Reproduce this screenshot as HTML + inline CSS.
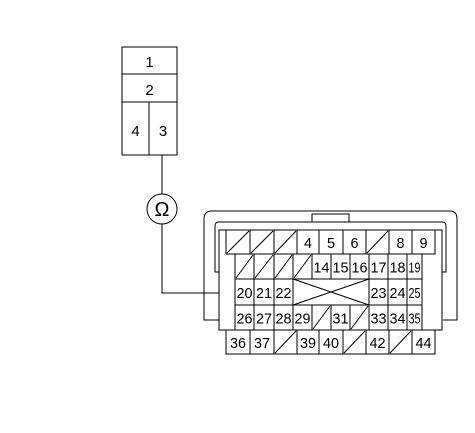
<!DOCTYPE html>
<html><head><meta charset="utf-8"><style>
html,body{margin:0;padding:0;background:#fff}
svg{display:block}
text{font-family:"Liberation Sans",sans-serif;font-size:15px;fill:#000}
</style></head><body>
<svg width="475" height="433" viewBox="0 0 475 433" fill="none" stroke="#000" stroke-width="1">
<g>
<rect x="122" y="47" width="55" height="108"/>
<line x1="122" y1="74" x2="177" y2="74"/>
<line x1="122" y1="102" x2="177" y2="102"/>
<line x1="149" y1="102" x2="149" y2="155"/>
<g stroke="none" text-anchor="middle" style="font-size:17px">
<text x="149.5" y="67">1</text><text x="149.5" y="95">2</text>
<text x="135.5" y="136">4</text><text x="163" y="136">3</text>
</g>
</g>
<g>
<line x1="162" y1="155" x2="162" y2="194"/>
<circle cx="162" cy="209" r="15"/>
<text x="162" y="216" text-anchor="middle" stroke="none" style="font-size:20px">Ω</text>
<polyline points="162,224 162,293 235,293"/>
</g>
<g>
<path d="M222,320 H204 V219 Q204,211 212,211 H450 Q457,211 457,219 V320 H443"/>
<path d="M221,272 H215 V226 Q215,222 219,222 H442 Q446,222 446,226 V272 H442"/>
<rect x="312" y="214" width="37" height="8" fill="#fff"/>
<rect x="219" y="230" width="223" height="100" fill="#fff"/>
</g>
<g id="cells"></g>
</svg>
<script>
const g=document.getElementById('cells');
const NS='http://www.w3.org/2000/svg';
function mk(t,a){const e=document.createElementNS(NS,t);for(const k in a)e.setAttribute(k,a[k]);g.appendChild(e);return e;}
const xsA=[226,250,274,297,319,343,366,389,412,435];
const xsB=[235,254,274,293,312,331,350,369,388,407,422];
const rows=[
 {y:230,h:24,xs:xsA,l:['/','/','/','4','5','6','/','8','9']},
 {y:254,h:25,xs:xsB,l:['/','/','/','/','14','15','16','17','18','19']},
 {y:279,h:26,xs:xsB,l:['20','21','22','X',null,null,null,'23','24','25']},
 {y:305,h:25,xs:xsB,l:['26','27','28','29','/','31','/','33','34','35']},
 {y:330,h:24,xs:xsA,l:['36','37','/','39','40','/','42','/','44']}
];
rows.forEach(r=>{
 for(let i=0;i<r.l.length;i++){
  const lab=r.l[i]; if(lab===null) continue;
  let x0=r.xs[i],x1=r.xs[i+1];
  if(lab==='X'){x1=r.xs[i+4];}
  const rc=mk('rect',{x:x0,y:r.y,width:x1-x0,height:r.h,fill:'#fff'});
  
  
  if(lab==='/'){mk('line',{x1:x0+1,y1:r.y+r.h-1,x2:x1-1,y2:r.y+1});}
  else if(lab==='X'){mk('line',{x1:x0,y1:r.y,x2:x1,y2:r.y+r.h});mk('line',{x1:x0,y1:r.y+r.h,x2:x1,y2:r.y});}
  else{const t=mk('text',{x:(x0+x1)/2,y:r.y+r.h/2+6,'text-anchor':'middle',stroke:'none',textLength:(lab.length>1?Math.min(16,x1-x0-3):8),lengthAdjust:'spacingAndGlyphs'});t.textContent=lab;
   
   }
 }
});
</script>
</body></html>
